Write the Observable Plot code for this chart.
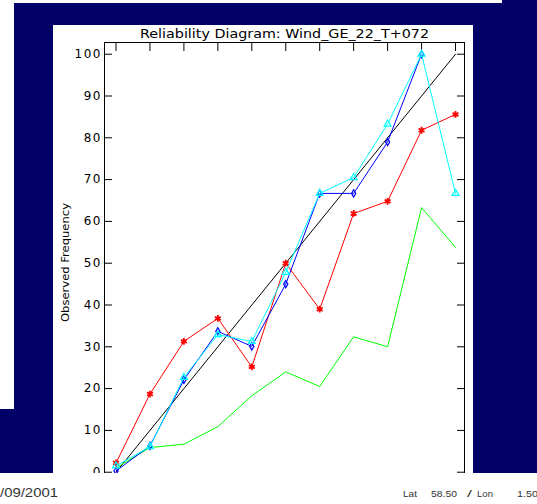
<!DOCTYPE html>
<html>
<head>
<meta charset="utf-8">
<script src="https://cdn.jsdelivr.net/npm/d3@7"></script>
<script src="https://cdn.jsdelivr.net/npm/@observablehq/plot@0.6"></script>
<style>
  html, body { margin: 0; padding: 0; background: #fff; }
  #page { position: relative; width: 537px; height: 504px; overflow: hidden; background: #fff; }
  .navy { position: absolute; background: #000066; }
  #wrap { position: absolute; left: 53px; top: 25px; width: 420px; height: 448px; overflow: hidden; background: #fff; }
  #overlay { position: absolute; left: 0; top: 0; pointer-events: none; }
</style>
</head>
<body>
<div id="page">
  <div class="navy" style="left:14px;top:3px;width:523px;height:470px"></div>
  <div class="navy" style="left:502px;top:0px;width:35px;height:3px"></div>
  <div class="navy" style="left:0px;top:409px;width:14px;height:64px"></div>
  <div id="wrap"></div>
  <svg id="overlay" width="537" height="504"></svg>
</div>
<script>
// Forecast probability bins (%)
const probs = [0, 10, 20, 30, 40, 50, 60, 70, 80, 90, 100];
// Observed frequency (%) per series
const redObs   = [2.2, 18.7, 31.3, 36.8, 25.2, 50.0, 39.0, 61.9, 64.8, 81.8, 85.6];
const blueObs  = [0.3, 6.3, 22.1, 33.7, 30.1, 45.0, 66.7, 66.7, 79.0, 100.0];
const cyanObs  = [1.5, 6.1, 22.7, 32.9, 31.3, 47.8, 66.7, 70.5, 83.3, 100.0, 66.7];
const greenObs = [1.0, 5.9, 6.7, 10.9, 18.3, 24.0, 20.5, 32.4, 30.0, 63.3, 53.8];
// Perfect reliability diagonal
const diagX = [0, 100];
const diagY = [0, 100];
// Tick values
const xTicks = [0, 10, 20, 30, 40, 50, 60, 70, 80, 90, 100];
const yTicks = [0, 10, 20, 30, 40, 50, 60, 70, 80, 90, 100];

const titleText = "Reliability Diagram: Wind_GE_22_T+072";
const yLabelText = "Observed Frequency";
const dateText = "/09/2001";
const latLonParts = ["Lat", "58.50", "/", "Lon", "1.50"];

const toRows = (xs, ys) => ys.map((v, i) => ({x: xs[i], y: v}));
const red = toRows(probs, redObs);
const blue = toRows(probs, blueObs);
const cyan = toRows(probs, cyanObs);
const green = toRows(probs, greenObs);
const diag = toRows(diagX, diagY);

const chart = Plot.plot({
  width: 420,
  height: 480,
  marginLeft: 51,
  marginRight: 9,
  marginTop: 17,
  marginBottom: 21,
  x: {domain: [-3.39, 102.65]},
  y: {domain: [-2.94, 102.8]},
  style: {background: "white", fontFamily: "DejaVu Sans", fontSize: "12px", color: "black", letterSpacing: "1.5px", overflow: "visible"},
  marks: [
    Plot.frame({stroke: "black", strokeWidth: 1}),
    Plot.axisY({ticks: yTicks, anchor: "left", tickSize: -8, tickPadding: 10.5, tickFormat: d => String(d), label: null, fontSize: 12}),
    Plot.axisY({ticks: yTicks, anchor: "right", tickSize: -8, tickFormat: () => "", label: null}),
    Plot.axisX({ticks: xTicks, anchor: "top", tickSize: -8, tickFormat: () => "", label: null}),
    Plot.axisX({ticks: xTicks, anchor: "bottom", tickSize: -8, tickFormat: () => "", label: null}),
    Plot.line(diag, {x: "x", y: "y", stroke: "black", strokeWidth: 1}),
    Plot.line(green, {x: "x", y: "y", stroke: "#00ff00", strokeWidth: 1}),
    Plot.line(red, {x: "x", y: "y", stroke: "#ff0000", strokeWidth: 1}),
    Plot.dot(red, {x: "x", y: "y", symbol: "asterisk", r: 3.2, stroke: "#ff0000", strokeWidth: 1.8, fill: "none"}),
    Plot.line(blue, {x: "x", y: "y", stroke: "#0000ff", strokeWidth: 1}),
    Plot.dot(blue, {x: "x", y: "y", symbol: "diamond", r: 2.2, stroke: "#0000ff", strokeWidth: 1.2, fill: "none"}),
    Plot.line(cyan, {x: "x", y: "y", stroke: "#00ffff", strokeWidth: 1}),
    Plot.dot(cyan, {x: "x", y: "y", symbol: "triangle", r: 2.6, stroke: "#00ffff", strokeWidth: 1.2, fill: "none"})
  ]
});
document.getElementById("wrap").appendChild(chart);

// Text overlay
const ov = d3.select("#overlay");
function addText(str, x, y, opts) {
  const t = ov.append("text")
    .attr("x", x).attr("y", y)
    .attr("font-family", opts.family || "DejaVu Sans")
    .attr("font-size", opts.size)
    .attr("fill", opts.fill || "black")
    .text(str);
  if (opts.len) t.attr("textLength", opts.len).attr("lengthAdjust", "spacingAndGlyphs");
  if (opts.anchor) t.attr("text-anchor", opts.anchor);
  if (opts.transform) t.attr("transform", opts.transform);
  if (opts.weight) t.attr("font-weight", opts.weight);
  return t;
}
addText(titleText, 140, 37.5, {size: 13, len: 289});
addText(yLabelText, 0, 0, {size: 10.5, len: 119, anchor: "middle", transform: "translate(69,262.5) rotate(-90)"});
addText(dateText, 0, 497, {size: 13, len: 58, fill: "#333", family: "Liberation Sans"});
const llX = [403, 431, 467, 477, 517];
const llW = [14, 26, 5, 16, 21];
latLonParts.forEach((s, i) => addText(s, llX[i], 497, {size: 9.5, len: llW[i], fill: "#333", family: "Liberation Sans"}));
</script>
</body>
</html>
